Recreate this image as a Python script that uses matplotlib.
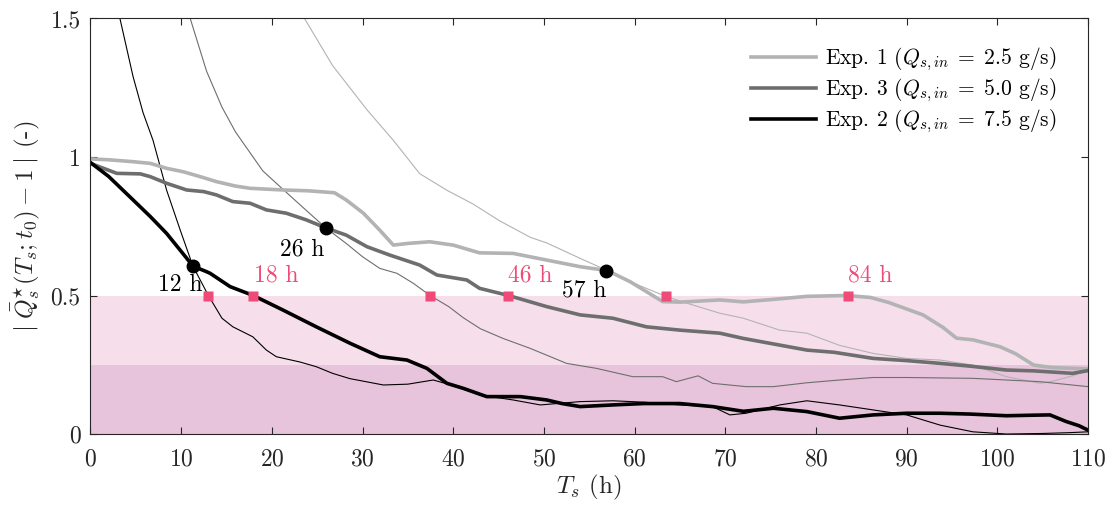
import numpy as np
import matplotlib
matplotlib.use("Agg")
import matplotlib.pyplot as plt

plt.rcParams["font.family"] = "serif"
plt.rcParams["font.serif"] = ["cmr10"]
plt.rcParams["mathtext.fontset"] = "cm"
plt.rcParams["axes.formatter.use_mathtext"] = True
plt.rcParams["axes.unicode_minus"] = False

# Exp. 1 (2.5 g/s), thick = running mean, thin = raw
exp1_x = [0, 2, 4.7, 6.6, 8.4, 10.2, 12.1, 13.9, 16, 17.6, 21.2, 24, 26.9, 28.2, 30.1, 31.9,
          33.4, 35, 37.4, 40, 42.9, 46.6, 50.3, 54, 57, 59.5, 61.5, 63.1, 65, 69.4, 72, 76,
          79, 83.4, 86, 88, 91.8, 94, 95.5, 97.3, 100.3, 102, 104, 106, 110]
exp1_y = [0.993, 0.99, 0.983, 0.977, 0.959, 0.947, 0.929, 0.911, 0.895, 0.887, 0.881, 0.878,
          0.871, 0.845, 0.797, 0.736, 0.682, 0.688, 0.694, 0.682, 0.654, 0.652, 0.628, 0.604,
          0.59, 0.55, 0.51, 0.478, 0.476, 0.484, 0.477, 0.488, 0.497, 0.5, 0.493, 0.475, 0.43,
          0.385, 0.346, 0.34, 0.315, 0.29, 0.249, 0.24, 0.235]
exp1_thin_x = [23.6, 26.7, 30.5, 33.4, 36.3, 39.3, 42.2, 45.1, 48.5, 50.3, 54, 57, 59.5, 63.5,
               66, 69.4, 72, 76, 79, 82.6, 86.3, 90, 93.7, 97.3, 101, 104.7, 106, 108.3, 110]
exp1_thin_y = [1.5, 1.33, 1.17, 1.06, 0.94, 0.88, 0.83, 0.77, 0.71, 0.69, 0.634, 0.59, 0.55,
               0.496, 0.47, 0.436, 0.418, 0.375, 0.364, 0.32, 0.291, 0.273, 0.267, 0.249, 0.207,
               0.183, 0.19, 0.21, 0.23]

# Exp. 3 (5.0 g/s)
exp3_x = [0, 2.9, 5.5, 6.6, 8.4, 10.6, 12.5, 13.9, 15.7, 17.6, 19.4, 21.6, 23.8, 25.95, 28.2,
          30.5, 33, 36.3, 38.2, 41.5, 42.9, 46.1, 50.3, 54, 57.6, 61.3, 65, 69.4, 72, 76, 79,
          82, 86.3, 90, 93.7, 97, 101, 104, 108.3, 110]
exp3_y = [0.977, 0.941, 0.939, 0.929, 0.905, 0.881, 0.875, 0.863, 0.839, 0.833, 0.809, 0.797,
          0.773, 0.744, 0.718, 0.676, 0.646, 0.61, 0.574, 0.556, 0.526, 0.5, 0.46, 0.43, 0.418,
          0.387, 0.375, 0.364, 0.345, 0.321, 0.303, 0.295, 0.273, 0.265, 0.255, 0.245, 0.231,
          0.228, 0.219, 0.229]
exp3_thin_x = [11, 12.8, 14.5, 16, 17.5, 19, 20.9, 23.5, 25.95, 28.2, 30, 31.9, 33.8, 35.6,
               37.45, 39.5, 41.1, 43, 45.5, 48.5, 52.5, 55.8, 59.8, 63.1, 64.6, 67, 68.6, 72.3,
               75.3, 79, 82.6, 86.3, 90, 97.3, 104.7, 110]
exp3_thin_y = [1.5, 1.31, 1.18, 1.09, 1.02, 0.95, 0.893, 0.816, 0.744, 0.688, 0.64, 0.598,
               0.58, 0.544, 0.5, 0.46, 0.42, 0.38, 0.345, 0.309, 0.255, 0.237, 0.207, 0.207,
               0.189, 0.21, 0.183, 0.171, 0.171, 0.185, 0.195, 0.204, 0.204, 0.201, 0.189, 0.171]

# Exp. 2 (7.5 g/s)
exp2_x = [0, 2, 4.7, 6.6, 8.4, 10.6, 11.3, 12.8, 13.2, 15.4, 17.95, 21.2, 24.9, 28.6, 31.9,
          34.9, 37.1, 39.3, 41.1, 43.7, 47.4, 50.3, 52, 54, 57.6, 61, 65, 68.6, 72, 75.3, 79,
          82.6, 86.3, 90, 93.7, 97, 101, 104, 105.8, 107.6, 109, 110]
exp2_y = [0.98, 0.93, 0.845, 0.785, 0.724, 0.635, 0.606, 0.586, 0.58, 0.532, 0.5, 0.448, 0.387,
          0.328, 0.279, 0.267, 0.237, 0.183, 0.165, 0.135, 0.135, 0.123, 0.11, 0.099, 0.105,
          0.11, 0.11, 0.099, 0.082, 0.093, 0.081, 0.057, 0.069, 0.075, 0.075, 0.072, 0.066,
          0.068, 0.069, 0.045, 0.03, 0.014]
exp2_thin_x = [3.25, 4.7, 5.8, 6.9, 8.4, 9.9, 11.3, 13.0, 14.5, 15.7, 17.9, 19.4, 20.5, 23.1,
               24.9, 26.7, 28.6, 32.3, 35, 37.8, 40.4, 42.9, 46.6, 49.6, 54, 57.6, 61, 65, 68.6,
               70.5, 72.3, 76, 79, 82.6, 86.3, 90, 93.7, 97.3, 101, 105, 108, 110]
exp2_thin_y = [1.5, 1.29, 1.16, 1.06, 0.88, 0.736, 0.606, 0.5, 0.418, 0.387, 0.351, 0.303,
               0.279, 0.26, 0.243, 0.219, 0.2, 0.177, 0.18, 0.195, 0.171, 0.141, 0.123, 0.105,
               0.117, 0.12, 0.115, 0.105, 0.099, 0.069, 0.075, 0.105, 0.12, 0.105, 0.087,
               0.069, 0.032, 0.008, 0.0, 0.002, 0.005, 0.008]

# crossing points (circles) and threshold points (squares)
cross_x = [11.3, 25.95, 56.9]
cross_y = [0.606, 0.744, 0.59]
cross_lbl = ["12 h", "26 h", "57 h"]
cross_lbl_x = [9.9, 23.3, 54.4]
cross_lbl_y = [0.538, 0.668, 0.52]
thr_x = [13.0, 17.95, 37.45, 46.05, 63.5, 83.5]
thr_y = [0.5, 0.5, 0.5, 0.5, 0.5, 0.5]
thr_lbl = ["18 h", "46 h", "84 h"]
thr_lbl_x = [20.5, 48.5, 86.0]
thr_lbl_y = [0.572, 0.572, 0.572]

c1, c3, c2 = "#b3b3b3", "#6e6e6e", "#000000"
pink = "#ef4a78"

fig = plt.figure(figsize=(11.14, 5.09), dpi=100)
ax = fig.add_axes([0.0812, 0.1473, 0.8955, 0.8164])

ax.axhspan(0.25, 0.5, color="#f6dfeb", lw=0, zorder=0)
ax.axhspan(0, 0.25, color="#e8c4dc", lw=0, zorder=0)

ax.plot(exp1_thin_x, exp1_thin_y, color=c1, lw=0.8)
ax.plot(exp3_thin_x, exp3_thin_y, color=c3, lw=0.8)
ax.plot(exp2_thin_x, exp2_thin_y, color=c2, lw=0.8)
ax.plot(exp1_x, exp1_y, color=c1, lw=2.6, label=r"Exp. 1 ($Q_{s,in}\;=\;2.5$ g/s)")
ax.plot(exp3_x, exp3_y, color=c3, lw=2.6, label=r"Exp. 3 ($Q_{s,in}\;=\;5.0$ g/s)")
ax.plot(exp2_x, exp2_y, color=c2, lw=2.6, label=r"Exp. 2 ($Q_{s,in}\;=\;7.5$ g/s)")

ax.plot(cross_x, cross_y, "o", color="k", ms=9, zorder=5)
ax.plot(thr_x, thr_y, "s", color=pink, ms=6.5, mec="none", zorder=5)
for x, y, s in zip(cross_lbl_x, cross_lbl_y, cross_lbl):
    ax.text(x, y, s, ha="center", va="center", fontsize=17, color="k")
for x, y, s in zip(thr_lbl_x, thr_lbl_y, thr_lbl):
    ax.text(x, y, s, ha="center", va="center", fontsize=17, color=pink)

ax.set_xlim(0, 110)
ax.set_ylim(0, 1.5)
ax.set_xticks(np.arange(0, 111, 10))
ax.set_yticks([0, 0.5, 1, 1.5])
ax.set_yticklabels(["0", "0.5", "1", "1.5"])
ax.tick_params(direction="in", top=True, right=True, length=5, width=0.8,
               labelsize=17, colors="#262626")
ax.tick_params(axis="x", pad=10)
ax.tick_params(axis="y", pad=7)
for sp in ax.spines.values():
    sp.set_color("#262626")
    sp.set_linewidth(0.8)

ax.set_xlabel(r"$T_s$ (h)", fontsize=18, color="#262626", labelpad=2)
ax.set_ylabel(r"$|\;\bar{Q}_s^{\star}(T_s;t_0) - 1\;|$ (-)", fontsize=18, color="#262626",
              labelpad=6)

ax.legend(loc="upper right", bbox_to_anchor=(0.968, 0.935), frameon=False, fontsize=15.5,
          handlelength=3.0, labelspacing=0.18, handletextpad=0.4, borderpad=0,
          borderaxespad=0)

fig.savefig("out.png", dpi=100)
